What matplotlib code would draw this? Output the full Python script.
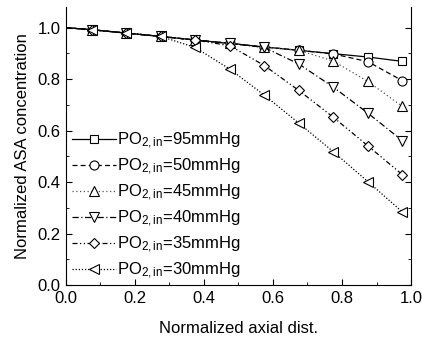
import matplotlib
matplotlib.use('Agg')
import matplotlib.pyplot as plt
from matplotlib.ticker import MultipleLocator

plt.rcParams['font.family'] = ['Liberation Sans', 'DejaVu Sans']
plt.rcParams['mathtext.fontset'] = 'custom'
plt.rcParams['mathtext.rm'] = 'Liberation Sans'
plt.rcParams['mathtext.it'] = 'Liberation Sans'

# data
x = [0.0, 0.075, 0.175, 0.275, 0.375, 0.475, 0.575, 0.675, 0.775, 0.875, 0.975]
labels = ['95', '50', '45', '40', '35', '30']
c95 = [1.0, 0.992, 0.979, 0.966, 0.952, 0.939, 0.925, 0.912, 0.899, 0.886, 0.869]
c50 = [1.0, 0.992, 0.979, 0.966, 0.952, 0.939, 0.925, 0.912, 0.898, 0.868, 0.794]
c45 = [1.0, 0.992, 0.979, 0.966, 0.952, 0.939, 0.925, 0.912, 0.870, 0.791, 0.694]
c40 = [1.0, 0.992, 0.979, 0.966, 0.952, 0.939, 0.923, 0.859, 0.769, 0.668, 0.561]
c35 = [1.0, 0.992, 0.979, 0.966, 0.952, 0.930, 0.853, 0.756, 0.652, 0.541, 0.429]
c30 = [1.0, 0.992, 0.979, 0.966, 0.923, 0.839, 0.738, 0.629, 0.518, 0.402, 0.284]
series = [c95, c50, c45, c40, c35, c30]

markers = ['s', 'o', '^', 'v', 'D', '<']
msizes = [6, 6.5, 7, 7, 5.5, 7]
styles = ['-', (0, (4, 2.5)), (0, (1, 2)), (0, (5, 2, 1, 2)), (0, (4, 2, 1, 2, 1, 2)), (0, (1, 1.5))]
colors = ['black', 'black', '#555555', 'black', 'black', 'black']

fig = plt.figure(figsize=(4.22, 3.37), dpi=100)
ax = fig.add_axes([0.156, 0.154, 0.818, 0.825])

for y, lab, m, ms, ls, col in zip(series, labels, markers, msizes, styles, colors):
    ax.plot(x, y, linestyle=ls, color=col, linewidth=0.9,
            marker=m, markersize=ms, markerfacecolor='white',
            markeredgecolor='black', markeredgewidth=0.8, markevery=range(1, len(x)),
            label='PO$_{2,in}$=' + lab + 'mmHg')

ax.set_xlim(0, 1.0)
ax.set_ylim(0, 1.08)
ax.xaxis.set_major_locator(MultipleLocator(0.2))
ax.xaxis.set_minor_locator(MultipleLocator(0.1))
ax.yaxis.set_major_locator(MultipleLocator(0.2))
ax.yaxis.set_minor_locator(MultipleLocator(0.1))
ax.xaxis.set_major_formatter(plt.FuncFormatter(lambda v, p: '%.1f' % v))
ax.yaxis.set_major_formatter(plt.FuncFormatter(lambda v, p: '%.1f' % v))
ax.tick_params(which='both', direction='in', right=True, top=False, labelsize=12, pad=4)
ax.tick_params(which='major', length=4)
ax.tick_params(which='minor', length=2)
ax.spines['top'].set_visible(False)

ax.set_xlabel('Normalized axial dist.', fontsize=12, labelpad=11)
ax.set_ylabel('Normalized ASA concentration', fontsize=12, labelpad=5)

ax.legend(loc='lower left', bbox_to_anchor=(0.0, -0.01), frameon=False, fontsize=12,
          handlelength=2.6, handletextpad=0.1, labelspacing=0.35, borderaxespad=0.0)

fig.savefig('out.png', dpi=100)
